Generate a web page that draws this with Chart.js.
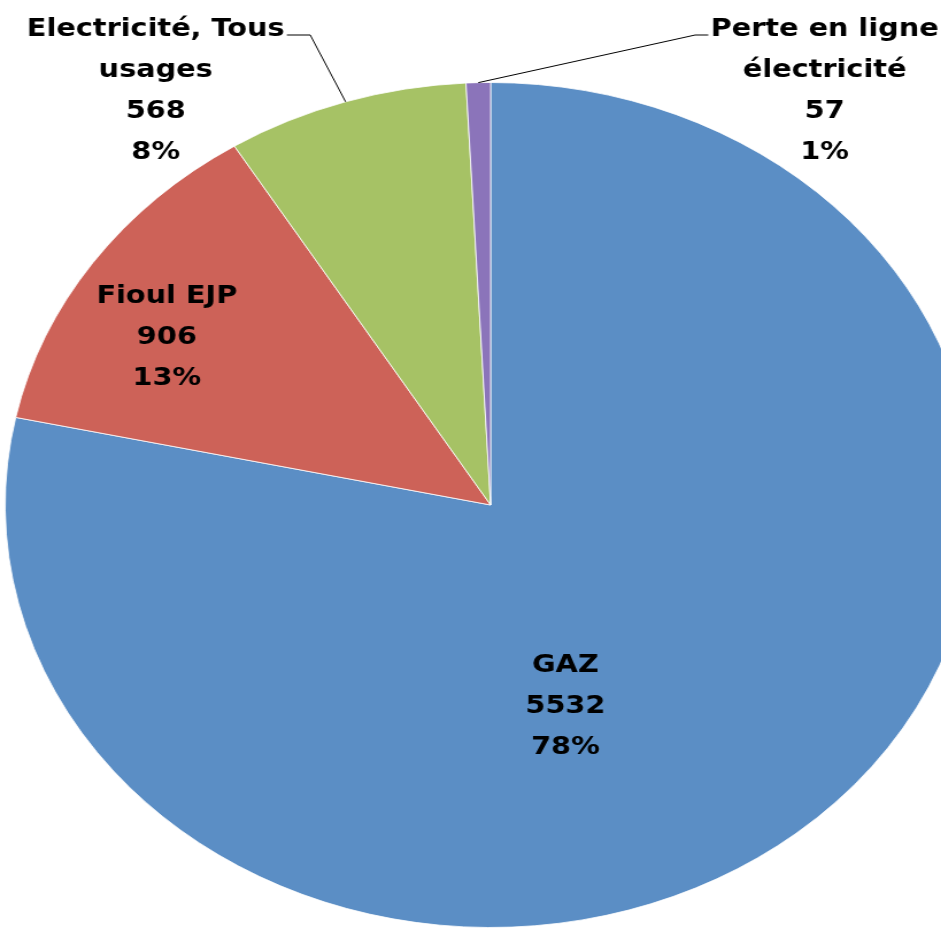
<!DOCTYPE html>
<html>
<head>
<meta charset="utf-8">
<script src="https://cdn.jsdelivr.net/npm/chart.js@4/dist/chart.umd.min.js"></script>
<style>
  html, body { margin: 0; padding: 0; background: #fff; overflow: hidden; }
  #wrap { position: absolute; left: 0; top: 0; transform: scaleX(1.149); transform-origin: 0 0; }
</style>
</head>
<body>
<div id="wrap"><canvas id="myPieChart" width="860" height="928"></canvas></div>
<script>
// energy consumption per source
var categories = ['GAZ', 'Fioul EJP', 'Electricité, Tous usages', 'Perte en ligne électricité'];
var labelLines = [['GAZ'], ['Fioul EJP'], ['Electricité, Tous', 'usages'], ['Perte en ligne', 'électricité']];
var values = [5532, 906, 568, 57];
var sliceColors = ['#5b8ec5', '#cd6258', '#a6c265', '#8b74ba'];

// where each label sits, as fraction of the radius from the centre
var labelPlace = [
  { dx: 0.154, dy: 0.38, outside: false },
  { dx: -0.667, dy: -0.493, outside: false },
  { dx: -0.69, dy: -1.125, outside: true, elbowX: 270, elbowY: 35, side: 'right' },
  { dx: 0.688, dy: -1.125, outside: true, elbowX: 605, elbowY: 35, side: 'left' }
];

var pieLabels = {
  id: 'pieLabels',
  afterDatasetsDraw: function (chart) {
    var ctx = chart.ctx;
    var meta = chart.getDatasetMeta(0);
    var total = values.reduce(function (a, b) { return a + b; }, 0);
    ctx.save();
    ctx.font = 'bold 25px "DejaVu Sans"';
    ctx.fillStyle = '#000';
    ctx.textAlign = 'center';
    ctx.textBaseline = 'middle';
    meta.data.forEach(function (arc, i) {
      var p = labelPlace[i];
      var r = arc.outerRadius;
      var lines = labelLines[i].concat([String(values[i]), Math.round(values[i] / total * 100) + '%']);
      var cx = arc.x + p.dx * r;
      var top = arc.y + p.dy * r;
      var lh = 41;
      lines.forEach(function (t, k) {
        ctx.fillText(t, cx, top + k * lh);
      });
      if (p.outside) {
        var mid = (arc.startAngle + arc.endAngle) / 2;
        var ax = arc.x + Math.cos(mid) * r;
        var ay = arc.y + Math.sin(mid) * r;
        var w = ctx.measureText(labelLines[i][0]).width;
        var sx = p.side === 'right' ? cx + w / 2 + 2 : cx - w / 2 - 2;
        ctx.beginPath();
        ctx.strokeStyle = '#000';
        ctx.lineWidth = 1;
        ctx.moveTo(sx, p.elbowY);
        ctx.lineTo(p.elbowX, p.elbowY);
        ctx.lineTo(ax, ay);
        ctx.stroke();
      }
    });
    ctx.restore();
  }
};

var ctx = document.getElementById('myPieChart');
var myPieChart = new Chart(ctx, {
  type: 'pie',
  data: {
    labels: categories,
    datasets: [{
      data: values,
      backgroundColor: sliceColors,
      borderColor: 'rgba(255,255,255,0.8)',
      borderWidth: 1,
      hoverOffset: 0,
      offset: 0
    }]
  },
  options: {
    responsive: false,
    animation: false,
    layout: { padding: { top: 82, left: 2, right: 8, bottom: 0 } },
    plugins: {
      legend: { display: false },
      tooltip: { enabled: false }
    }
  },
  plugins: [pieLabels]
});
</script>
</body>
</html>
